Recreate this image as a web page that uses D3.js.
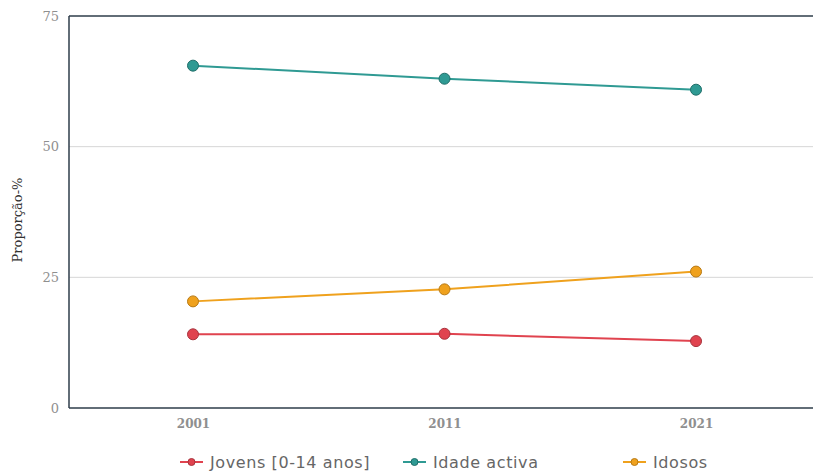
<!DOCTYPE html>
<html><head><meta charset="utf-8">
<script src="https://cdn.jsdelivr.net/npm/d3@7"></script>
<style>body{margin:0;background:#fff}svg{display:block}</style>
</head><body>
<svg id="c" width="813" height="472"></svg>
<script>
const years = [2001, 2011, 2021];
const jovens = [14.1, 14.2, 12.8];
const idadeActiva = [65.5, 63.0, 60.9];
const idosos = [20.4, 22.7, 26.1];
const yTicks = [0, 25, 50, 75];
const seriesNames = ["Jovens [0-14 anos]", "Idade activa", "Idosos"];
const seriesColors = ["#e0434f", "#2f9a93", "#efa11d"];
const seriesStrokes = ["#a8343e", "#1f6e69", "#b87a15"];
const series = [jovens, idadeActiva, idosos];

const svg = d3.select("#c");
const L = 69, R = 813, T = 16, B = 408;
const x = d3.scaleLinear().domain([1996.07, 2025.65]).range([L, R]);
const y = d3.scaleLinear().domain([0, 75]).range([B, T]);

// gridlines
svg.append("g").selectAll("line").data(yTicks.filter(t => t > 0 && t < 75)).join("line")
  .attr("x1", L).attr("x2", R).attr("y1", d => y(d)).attr("y2", d => y(d))
  .attr("stroke", "#d6d6d6").attr("stroke-width", 1);

// frame
const frame = svg.append("g").attr("stroke", "#2e3c4a").attr("stroke-width", 1.5).attr("fill", "none");
frame.append("line").attr("x1", L).attr("x2", R).attr("y1", T).attr("y2", T);
frame.append("line").attr("x1", L).attr("x2", R).attr("y1", B).attr("y2", B);
frame.append("line").attr("x1", L).attr("x2", L).attr("y1", T).attr("y2", B);

// y axis
const yAxis = svg.append("g").attr("transform", `translate(${L - 10},0)`)
  .call(d3.axisLeft(y).tickValues(yTicks).tickSize(0).tickPadding(0));
yAxis.select(".domain").remove();
yAxis.selectAll("text").attr("font-family", "'DejaVu Serif', serif")
  .attr("font-size", 13).attr("fill", "#8f8f8f");

// x axis
const xAxis = svg.append("g").attr("transform", `translate(0,${B + 11})`)
  .call(d3.axisBottom(x).tickValues(years).tickFormat(d3.format("d")).tickSize(0).tickPadding(0));
xAxis.select(".domain").remove();
xAxis.selectAll("text").attr("font-family", "'DejaVu Serif', serif")
  .attr("font-size", 12).attr("font-weight", "bold").attr("fill", "#8f8f8f");

// y label
svg.append("text").attr("transform", `translate(22,${(T + B) / 2 + 8}) rotate(-90)`)
  .attr("text-anchor", "middle").attr("font-family", "'DejaVu Serif', serif")
  .attr("font-size", 13).attr("fill", "#333").text("Proporção-%");

// lines and points
const line = d3.line().x((d, i) => x(years[i])).y(d => y(d));
series.forEach((s, k) => {
  svg.append("path").attr("d", line(s)).attr("fill", "none")
    .attr("stroke", seriesColors[k]).attr("stroke-width", 2);
  svg.append("g").selectAll("circle").data(s).join("circle")
    .attr("cx", (d, i) => x(years[i])).attr("cy", d => y(d)).attr("r", 5.5)
    .attr("fill", seriesColors[k]).attr("stroke", seriesStrokes[k]).attr("stroke-width", 1);
});

// legend
const legX = [180, 403, 623];
const lg = svg.append("g").attr("transform", "translate(0,462)");
seriesNames.forEach((n, k) => {
  const g = lg.append("g").attr("transform", `translate(${legX[k]},0)`);
  g.append("line").attr("x1", 0).attr("x2", 23).attr("y1", 0).attr("y2", 0)
    .attr("stroke", seriesColors[k]).attr("stroke-width", 2);
  g.append("circle").attr("cx", 11.5).attr("cy", 0).attr("r", 3.5)
    .attr("fill", seriesColors[k]).attr("stroke", seriesStrokes[k]).attr("stroke-width", 1);
  g.append("text").attr("x", 30).attr("y", 0).attr("dy", "0.35em")
    .attr("font-family", "'DejaVu Sans', Verdana, sans-serif").attr("font-size", 16)
    .attr("letter-spacing", 0.6).attr("fill", "#666").text(n);
});
</script>
</body></html>
